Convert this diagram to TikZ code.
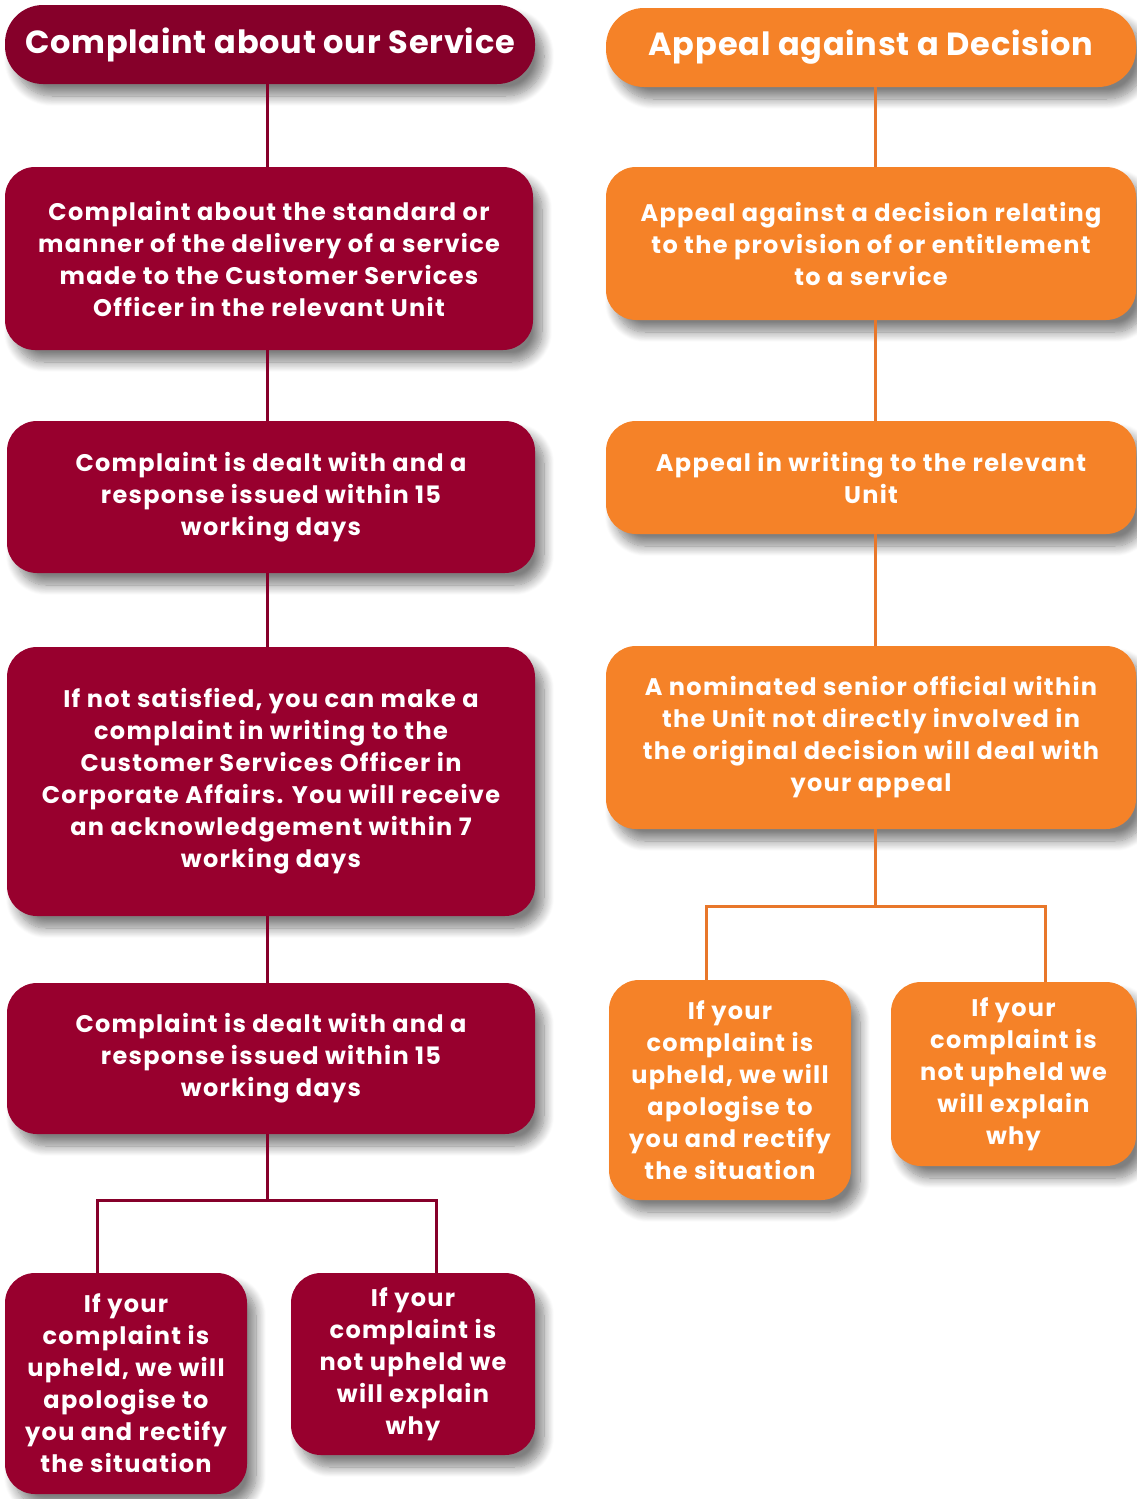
\documentclass[tikz,border=0pt]{standalone}
\usepackage{fontspec}
\setmainfont{Poppins}
\usetikzlibrary{shadows.blur}
\definecolor{wine}{HTML}{98002E}
\definecolor{winedark}{HTML}{86002A}
\definecolor{amber}{HTML}{F58228}
\definecolor{amberdark}{HTML}{E8772A}

\begin{document}
\begin{tikzpicture}[x=1pt,y=-1pt,
	box/.style={rounded corners=30pt, text=white, align=center, inner sep=0pt,
		font=\bfseries\fontsize{24}{32}\selectfont\addfontfeature{LetterSpace=5.5},
		blur shadow={shadow xshift=9pt, shadow yshift=-12pt, shadow blur steps=12, shadow blur radius=10pt, shadow opacity=50}},
	head/.style={box, rounded corners=38pt, font=\bfseries\fontsize{32}{38}\selectfont\addfontfeature{LetterSpace=2.5}},
	wbox/.style={box, fill=wine},
	abox/.style={box, fill=amber},
	wline/.style={line width=3pt, draw=winedark},
	aline/.style={line width=3pt, draw=amberdark}]
\useasboundingbox (0,0) rectangle (1136,1499);

% complaint column
\node[head, fill=winedark, minimum width=530pt, minimum height=79pt] (chead) at (270,44.5) {Complaint about our Service};
\node[wbox, minimum width=528pt, minimum height=183pt] (c1) at (269,258.5)
	{Complaint about the standard or\\manner of the delivery of a service\\made to the Customer Services\\Officer in the relevant Unit};
\node[wbox, minimum width=528pt, minimum height=152pt] (c2) at (271,497)
	{Complaint is dealt with and a\\response issued within 15\\working days};
\node[wbox, minimum width=528pt, minimum height=269pt] (c3) at (271,781.5)
	{If not satisfied, you can make a\\complaint in writing to the\\Customer Services Officer in\\Corporate Affairs. You will receive\\an acknowledgement within 7\\working days};
\node[wbox, minimum width=528pt, minimum height=151pt] (c4) at (271,1058.5)
	{Complaint is dealt with and a\\response issued within 15\\working days};
\node[wbox, minimum width=242pt, minimum height=221pt] (c5) at (126,1383.5)
	{If your\\complaint is\\upheld, we will\\apologise to\\you and rectify\\the situation};
\node[wbox, minimum width=244pt, minimum height=182pt] (c6) at (413,1364)
	{If your\\complaint is\\not upheld we\\will explain\\why};

% appeal column
\node[head, fill=amber, minimum width=530pt, minimum height=79pt] (ahead) at (871,47.5) {Appeal against a Decision};
\node[abox, minimum width=530pt, minimum height=153pt] (a1) at (871,243.5)
	{Appeal against a decision relating\\to the provision of or entitlement\\to a service};
\node[abox, minimum width=530pt, minimum height=113pt] (a2) at (871,477.5)
	{Appeal in writing to the relevant\\Unit};
\node[abox, minimum width=530pt, minimum height=183pt] (a3) at (871,737.5)
	{A nominated senior official within\\the Unit not directly involved in\\the original decision will deal with\\your appeal};
\node[abox, minimum width=242pt, minimum height=220pt] (a4) at (730,1090)
	{If your\\complaint is\\upheld, we will\\apologise to\\you and rectify\\the situation};
\node[abox, minimum width=245pt, minimum height=184pt] (a5) at (1013.5,1074)
	{If your\\complaint is\\not upheld we\\will explain\\why};

\coordinate (cfork) at (267,1200);
\coordinate (afork) at (875,906);
\draw[wline] (chead.south -| cfork) -- (c1.north -| cfork);
\draw[wline] (c1.south -| cfork) -- (c2.north -| cfork);
\draw[wline] (c2.south -| cfork) -- (c3.north -| cfork);
\draw[wline] (c3.south -| cfork) -- (c4.north -| cfork);
\draw[wline] (c4.south -| cfork) -- (cfork);
\draw[wline] ([xshift=-29pt]c5.north) |- (cfork) -| ([xshift=23pt]c6.north);

\draw[aline] (ahead.south -| afork) -- (a1.north -| afork);
\draw[aline] (a1.south -| afork) -- (a2.north -| afork);
\draw[aline] (a2.south -| afork) -- (a3.north -| afork);
\draw[aline] (a3.south -| afork) -- (afork);
\draw[aline] ([xshift=-24pt]a4.north) |- (afork) -| ([xshift=31.5pt]a5.north);
\end{tikzpicture}
\end{document}
